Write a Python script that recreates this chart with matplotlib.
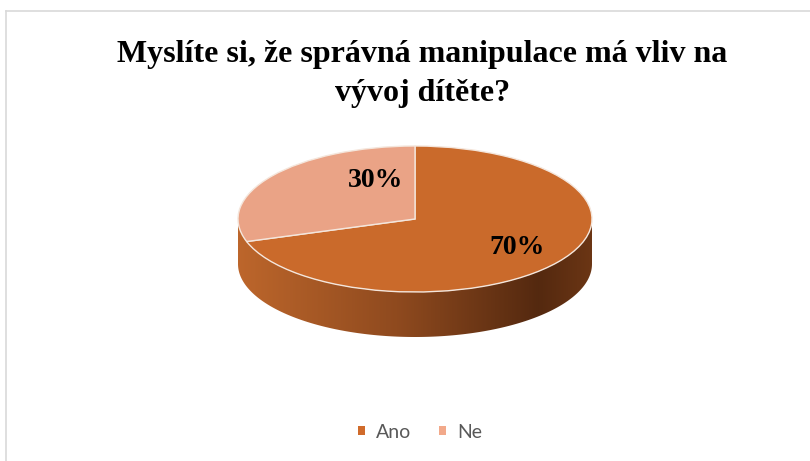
import numpy as np
import matplotlib
matplotlib.use("Agg")
import matplotlib.pyplot as plt
from matplotlib.patches import Patch, PathPatch
from matplotlib.path import Path
from matplotlib.colors import LinearSegmentedColormap

# ---- data ----
categories = ["Ano", "Ne"]
values = [70, 30]
colors = ["#CA6A2B", "#EAA386"]
legend_colors = ["#D06B2B", "#F2A98A"]
title_lines = ["Myslíte si, že správná manipulace má vliv na", "vývoj dítěte?"]

W, H = 810, 461
fig = plt.figure(figsize=(W / 100, H / 100), dpi=100)
fig.patch.set_facecolor("white")

# main axes in pixel coordinates
ax = fig.add_axes([0, 0, 1, 1])
ax.set_xlim(0, W)
ax.set_ylim(H, 0)
ax.axis("off")

# chart border (top and left)
ax.plot([5.5, W], [11.5, 11.5], color="#D9D9D9", lw=1.2)
ax.plot([5.5, 5.5], [11.5, H], color="#D9D9D9", lw=1.2)

# ellipse geometry
cx, cy, rx, ry, depth = 415, 219, 177, 73, 45

# side wall (front half) with gradient
t = np.linspace(np.pi, 2 * np.pi, 200)
xs = cx + rx * np.cos(t)
ys_top = cy - ry * np.sin(t)
verts = list(zip(xs, ys_top)) + list(zip(xs[::-1], ys_top[::-1] + depth))
side_path = Path(verts + [verts[0]], closed=True)
clip = PathPatch(side_path, facecolor="none", edgecolor="none")
ax.add_patch(clip)
cmap = LinearSegmentedColormap.from_list(
    "side",
    [(0.0, (0.74, 0.40, 0.17)), (0.45, (0.56, 0.29, 0.12)),
     (0.85, (0.33, 0.16, 0.06)), (1.0, (0.42, 0.21, 0.08))])
grad = np.linspace(0, 1, 256).reshape(1, -1)
im = ax.imshow(grad, cmap=cmap, aspect="auto",
               extent=[cx - rx, cx + rx, cy + ry + depth + 2, cy - 2],
               interpolation="bilinear")
im.set_clip_path(clip)
ax.set_xlim(0, W)
ax.set_ylim(H, 0)

# top face: pie in its own axes squashed into ellipse
pax = fig.add_axes([(cx - rx) / W, 1 - (cy + ry) / H, 2 * rx / W, 2 * ry / H])
wedges, _ = pax.pie(values, colors=colors, startangle=90, counterclock=False,
                    radius=1, wedgeprops=dict(edgecolor="#F4E6DC", linewidth=1.0))
pax.set_aspect("auto")
pax.set_xlim(-1, 1)
pax.set_ylim(-1, 1)
pax.axis("off")
pax.patch.set_alpha(0)

# percentage labels (drawn in the top axes so they sit over the wedges)
label_pos = [(517, 247), (376, 180)]
for v, (lx, ly) in zip(values, label_pos):
    pax.text(lx, ly, f"{v}%", ha="center", va="center", fontsize=20,
             fontweight="bold", family="Liberation Serif", color="black",
             transform=ax.transData, clip_on=False)

# title
for line, base in zip(title_lines, [62, 101]):
    ax.text(422.5, base, line, ha="center", va="baseline", fontsize=23,
            fontweight="bold", family="Liberation Serif", color="black")

# legend
handles = [Patch(facecolor=c, edgecolor="none") for c in legend_colors]
leg = ax.legend(handles, categories, loc="center", bbox_to_anchor=(420 / W, 1 - 432 / H),
                bbox_transform=fig.transFigure, ncol=2, frameon=False,
                prop={"family": "Lato", "size": 14}, handlelength=0.35,
                handleheight=0.35, handletextpad=0.6, columnspacing=1.4,
                labelcolor="#595959")

fig.savefig("out.png", dpi=100, facecolor="white")
